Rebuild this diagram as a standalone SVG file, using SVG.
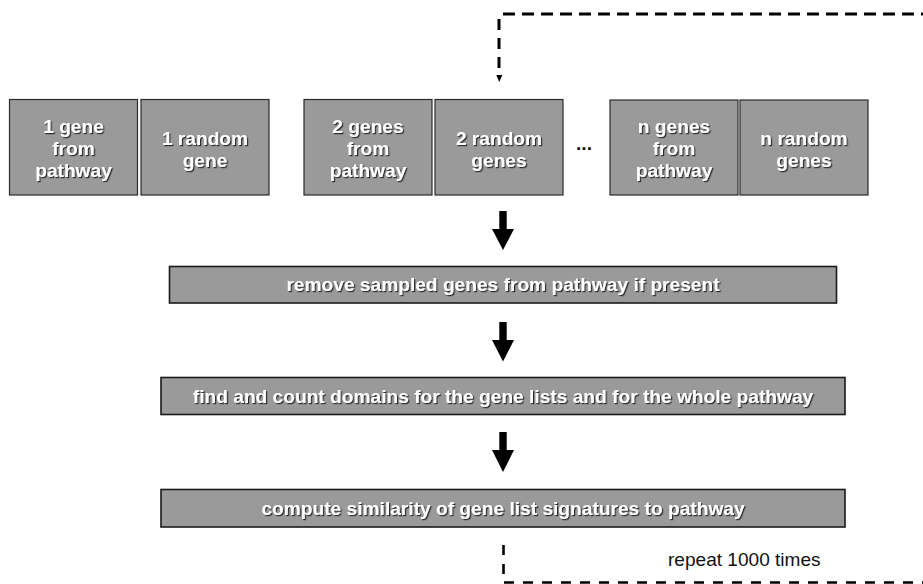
<svg xmlns="http://www.w3.org/2000/svg" width="923" height="584" viewBox="0 0 923 584">
<defs>
  <filter id="sh" x="-10%" y="-30%" width="120%" height="160%">
    <feDropShadow dx="1.2" dy="1.2" stdDeviation="0.3" flood-color="#1a1a1a" flood-opacity="0.9"/>
  </filter>
</defs>
<style>
  .box { fill: #9a9a9a; stroke: #2a2a2a; stroke-width: 1.2; }
  .wide { fill: #9a9a9a; stroke: #1a1a1a; stroke-width: 1.6; }
  .lbl { font-family: "Liberation Sans", Arial, sans-serif; font-weight: bold; font-size: 18.6px; fill: #ffffff; text-anchor: middle; filter: url(#sh); }
  .plain { font-family: "Liberation Sans", Arial, sans-serif; font-size: 18px; fill: #111111; }
  .dots { font-family: "Liberation Sans", Arial, sans-serif; font-weight: bold; font-size: 18.6px; fill: #111111; text-anchor: middle; }
  .dash { fill: none; stroke: #000000; stroke-width: 3; stroke-dasharray: 11 8; }
  .big { fill: #000000; }
</style>

<g id="node-1gene">
  <rect class="box" x="9.5" y="99.5" width="128" height="95.5"/>
  <text class="lbl" transform="translate(73.5,0) scale(1.03,1)"><tspan x="0" y="133">1 gene</tspan><tspan x="0" y="155.5">from</tspan><tspan x="0" y="177.5">pathway</tspan></text>
</g>
<g id="node-1random">
  <rect class="box" x="141" y="99.5" width="128" height="95.5"/>
  <text class="lbl" transform="translate(205,0) scale(1.03,1)"><tspan x="0" y="145">1 random</tspan><tspan x="0" y="167">gene</tspan></text>
</g>
<g id="node-2genes">
  <rect class="box" x="304" y="99.5" width="128" height="95.5"/>
  <text class="lbl" transform="translate(368,0) scale(1.03,1)"><tspan x="0" y="133">2 genes</tspan><tspan x="0" y="155.5">from</tspan><tspan x="0" y="177.5">pathway</tspan></text>
</g>
<g id="node-2random">
  <rect class="box" x="435" y="99.5" width="128" height="95.5"/>
  <text class="lbl" transform="translate(499,0) scale(1.03,1)"><tspan x="0" y="145">2 random</tspan><tspan x="0" y="167">genes</tspan></text>
</g>
<g id="ellipsis">
  <text class="dots" transform="translate(584,0) scale(1.03,1)" x="0" y="150">...</text>
</g>
<g id="node-ngenes">
  <rect class="box" x="610" y="100" width="128" height="95"/>
  <text class="lbl" transform="translate(674,0) scale(1.03,1)"><tspan x="0" y="133">n genes</tspan><tspan x="0" y="155.5">from</tspan><tspan x="0" y="177.5">pathway</tspan></text>
</g>
<g id="node-nrandom">
  <rect class="box" x="740" y="100" width="128" height="95"/>
  <text class="lbl" transform="translate(804,0) scale(1.03,1)"><tspan x="0" y="145">n random</tspan><tspan x="0" y="167">genes</tspan></text>
</g>

<g id="node-remove">
  <rect class="wide" x="169.5" y="266.5" width="667" height="36.5"/>
  <text class="lbl" transform="translate(503,0) scale(1.03,1)" x="0" y="291.5">remove sampled genes from pathway if present</text>
</g>
<g id="node-find">
  <rect class="wide" x="161" y="377.5" width="684" height="37"/>
  <text class="lbl" transform="translate(503,0) scale(1.03,1)" x="0" y="403">find and count domains for the gene lists and for the whole pathway</text>
</g>
<g id="node-compute">
  <rect class="wide" x="161" y="489.5" width="684" height="37.5"/>
  <text class="lbl" transform="translate(503,0) scale(1.03,1)" x="0" y="515">compute similarity of gene list signatures to pathway</text>
</g>
<g id="label-repeat">
  <text class="plain" transform="translate(668,0) scale(1.06,1)" x="0" y="566.5">repeat 1000 times</text>
</g>

<g id="connectors">
  <path class="big" d="M499.3 211 H506.7 V229 H514 L503 250 L492 229 H499.3 Z"/>
  <path class="big" d="M499.3 322 H506.7 V340 H514 L503 361.5 L492 340 H499.3 Z"/>
  <path class="big" d="M499.3 432 H506.7 V450 H514 L503 472 L492 450 H499.3 Z"/>
  <path class="dash" d="M503 14 H923" style="stroke-dasharray: 12 7"/>
  <path class="dash" d="M499 19 V70"/>
  <polygon points="496.3,75 502.3,75 499.3,82" fill="#000000"/>
  <path class="dash" d="M503.5 545 V582.5 H923" style="stroke-dasharray: 10 9; stroke-width: 2.6"/>
</g>
</svg>
